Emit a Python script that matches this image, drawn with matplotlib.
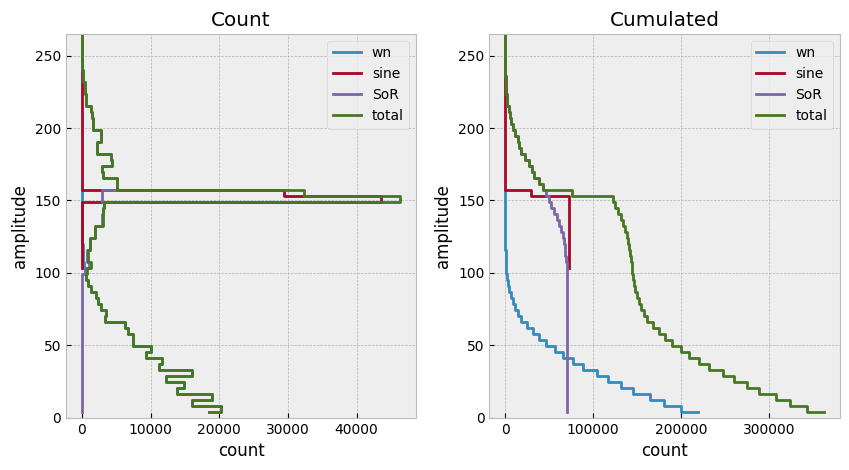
import numpy as np
import matplotlib
matplotlib.use('Agg')
import matplotlib.pyplot as plt
from matplotlib.ticker import MultipleLocator

plt.style.use('bmh')

# amplitude levels: 64 quantisation steps up to 265
n_levels = 64
levels = np.arange(1, n_levels + 1) * 265 / n_levels

# counts per amplitude level
# wn covers levels 1..38
wn_counts = [18500, 20200, 16000, 19000, 13800, 14800, 12300, 16000, 11200, 11600,
             9300, 10100, 7500, 7500, 6700, 6300, 3400, 3500, 2800, 2400,
             2000, 1300, 900, 600, 400, 300, 200, 150, 100, 50,
             50, 30, 30, 20, 20, 10, 0, 0]
wn_first = 1
# sine covers levels 25..60
sine_counts = [0, 0, 0, 0, 0, 0, 0, 0, 0, 0, 0, 0, 43500, 29400, 0, 0, 0, 0,
               0, 0, 0, 0, 0, 0, 0, 0, 0, 0, 0, 0, 0, 0, 0, 0, 0, 0]
sine_first = 25
# SoR covers levels 1..64
sor_counts = [0] * 24 + \
             [400, 1000, 700, 700, 1150, 1150, 1850, 1900, 3000, 3000, 3100, 3200, 2900, 3000] + \
             [5150, 5100, 3100, 3000, 4350, 4300, 2200, 2150, 2800, 2750, 1600, 1550, 1400,
              1350, 600, 550, 500, 480, 150, 100, 80, 60, 40, 30, 20, 10]
sor_first = 1

names = ['wn', 'sine', 'SoR', 'total']

# put every series on the full level grid to get the total
full = np.zeros((3, n_levels))
series = []
for i, (first, cnt) in enumerate([(wn_first, wn_counts), (sine_first, sine_counts), (sor_first, sor_counts)]):
    cnt = np.array(cnt, dtype=float)
    full[i, first - 1:first - 1 + len(cnt)] = cnt
    series.append((levels[first - 1:first - 1 + len(cnt)], cnt))
series.append((levels, full.sum(axis=0)))

fig, (ax1, ax2) = plt.subplots(1, 2, figsize=(8.49, 4.70), dpi=100)
fig.subplots_adjust(left=0.0777, right=0.989, bottom=0.111, top=0.928, wspace=0.208)

for name, (amp, cnt) in zip(names, series):
    ax1.plot(cnt, amp, drawstyle='steps-post', label=name)
    # cumulated from the top: samples with amplitude >= level
    cum = np.cumsum(cnt[::-1])[::-1]
    ax2.plot(cum, amp, drawstyle='steps-post', label=name)

for ax, title in [(ax1, 'Count'), (ax2, 'Cumulated')]:
    ax.set_title(title)
    ax.set_xlabel('count')
    ax.set_ylabel('amplitude')
    ax.set_ylim(0, levels[-1])
    ax.legend(loc='upper right')

ax1.xaxis.set_major_locator(MultipleLocator(10000))
ax2.xaxis.set_major_locator(MultipleLocator(100000))

fig.savefig('out.png', dpi=100)
